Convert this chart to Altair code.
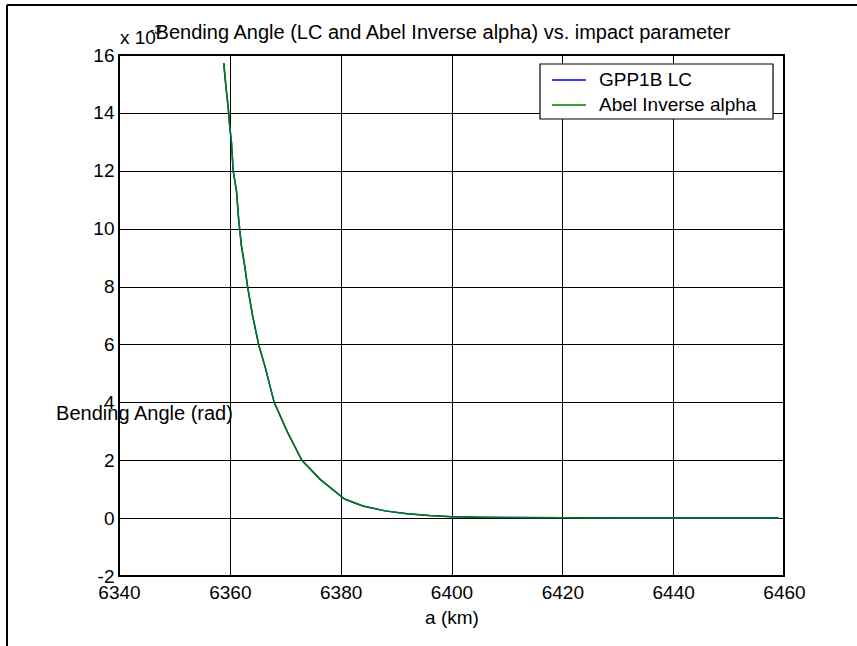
import altair as alt
import pandas as pd

# impact parameter a (km) and bending angle (x 1e-3 rad)
a_km = [6358.9, 6359.3, 6359.7, 6360.0, 6360.3, 6360.6, 6361.2, 6361.6, 6362.1,
        6362.7, 6363.2, 6364.1, 6365.2, 6366.4, 6368.0, 6370.4, 6373.0, 6376.3,
        6380.7, 6384.0, 6388.0, 6392.0, 6396.0, 6400.0, 6405.0, 6410.0, 6420.0,
        6430.0, 6440.0, 6450.0, 6459.0]
lc_alpha = [15.72, 14.9, 14.2, 13.5, 12.97, 12.0, 11.3, 10.3, 9.4,
            8.7, 8.0, 7.0, 6.0, 5.2, 4.0, 2.97, 2.0, 1.34,
            0.66, 0.42, 0.25, 0.15, 0.09, 0.05, 0.03, 0.02, 0.01,
            0.005, 0.003, 0.002, 0.001]
abel_alpha = [15.72, 14.9, 14.2, 13.5, 12.97, 12.0, 11.3, 10.3, 9.4,
              8.7, 8.0, 7.0, 6.0, 5.2, 4.0, 2.97, 2.0, 1.34,
              0.66, 0.42, 0.25, 0.15, 0.09, 0.05, 0.03, 0.02, 0.01,
              0.005, 0.003, 0.002, 0.001]
series_names = ["GPP1B LC", "Abel Inverse alpha"]
series_colors = ["#0000ff", "#008000"]
x_ticks = [6340, 6360, 6380, 6400, 6420, 6440, 6460]
y_ticks = [-2, 0, 2, 4, 6, 8, 10, 12, 14, 16]

FONT = "Liberation Sans"
W, H = 665, 521
PL, PT = 119, 55

df_lc = pd.DataFrame({"a": a_km, "alpha": lc_alpha, "series": series_names[0]})
df_abel = pd.DataFrame({"a": a_km, "alpha": abel_alpha, "series": series_names[1]})

xs = alt.Scale(domain=[6340, 6460], nice=False, zero=False)
ys = alt.Scale(domain=[-2, 16], nice=False, zero=False)
color = alt.Color("series:N",
                  scale=alt.Scale(domain=series_names, range=series_colors),
                  legend=None)

x_enc = alt.X("a:Q", scale=xs, axis=alt.Axis(
    values=x_ticks, title="a (km)", grid=True, gridColor="black", gridWidth=1,
    ticks=False, domain=False, labelFont=FONT, labelFontSize=19, labelColor="black",
    labelPadding=7, titleFont=FONT, titleFontSize=19, titleFontWeight="normal",
    titleColor="black", titlePadding=6, labelExpr="'' + datum.value", labelFlush=False))
y_enc = alt.Y("alpha:Q", scale=ys, axis=alt.Axis(
    values=y_ticks, title="Bending Angle (rad)", grid=True, gridColor="black",
    gridWidth=1, ticks=False, domain=False, labelFont=FONT, labelFontSize=19,
    labelColor="black", labelPadding=5, titleFont=FONT, titleFontSize=20,
    titleFontWeight="normal", titleColor="black", titleAngle=0,
    titleAlign="center", titleBaseline="middle", titleX=25, titleY=358,
    labelExpr="'' + datum.value", labelFlush=False))

line_lc = alt.Chart(df_lc).mark_line(strokeWidth=1.5, clip=True).encode(
    x=x_enc, y=y_enc, color=color)
line_abel = alt.Chart(df_abel).mark_line(strokeWidth=1.5, clip=True).encode(
    x="a:Q", y="alpha:Q", color="series:N")

# legend box (drawn as in the original figure)
one = pd.DataFrame({"k": [0]})
leg_box = alt.Chart(one).mark_rect(fill="white", stroke="black", strokeWidth=1.2).encode(
    x=alt.value(421), x2=alt.value(654), y=alt.value(9), y2=alt.value(64))
leg_layers = []
for i, (name, col) in enumerate(zip(series_names, series_colors)):
    yy = 25 + 25 * i
    leg_layers.append(alt.Chart(one).mark_rule(color=col, strokeWidth=1.5).encode(
        x=alt.value(433), x2=alt.value(467), y=alt.value(yy)))
    leg_layers.append(alt.Chart(pd.DataFrame({"t": [name]})).mark_text(
        font=FONT, fontSize=19, align="left", baseline="middle", color="black").encode(
        x=alt.value(480), y=alt.value(yy), text="t:N"))

mult = alt.Chart(pd.DataFrame({"t": ["x 10"]})).mark_text(
    font=FONT, fontSize=19, align="left", baseline="middle", color="black").encode(
    x=alt.value(1), y=alt.value(-17), text="t:N")
expo = alt.Chart(pd.DataFrame({"t": ["-3"]})).mark_text(
    font=FONT, fontSize=13, align="left", baseline="middle", color="black").encode(
    x=alt.value(31), y=alt.value(-25), text="t:N")
title = alt.Chart(pd.DataFrame({"t": ["Bending Angle (LC and Abel Inverse alpha) vs. impact parameter"]})).mark_text(
    font=FONT, fontSize=20, align="center", baseline="middle", color="black").encode(
    x=alt.value(324), y=alt.value(-22), text="t:N")

border_top = alt.Chart(one).mark_rule(color="black", strokeWidth=2).encode(
    x=alt.value(7 - PL), x2=alt.value(857 - PL), y=alt.value(5 - PT))
border_left = alt.Chart(one).mark_rule(color="black", strokeWidth=2).encode(
    x=alt.value(7 - PL), y=alt.value(5 - PT), y2=alt.value(646 - PT))

chart = alt.layer(line_lc, line_abel, leg_box, *leg_layers, mult, expo, title,
                  border_top, border_left).properties(
    width=W, height=H,
    autosize=alt.AutoSizeParams(type="none"),
    padding={"left": PL, "top": PT, "right": 857 - PL - W, "bottom": 646 - PT - H},
    background="white",
).configure_view(stroke="black", strokeWidth=2)

chart.save("out.html", embed_options={"renderer": "svg", "actions": False})
